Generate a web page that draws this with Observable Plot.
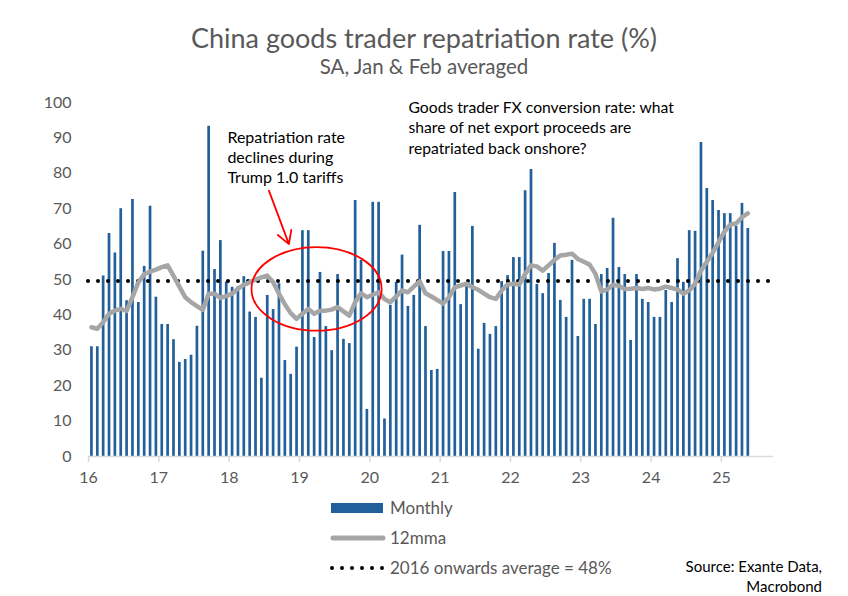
<!DOCTYPE html>
<html>
<head>
<meta charset="utf-8">
<script src="https://cdn.jsdelivr.net/npm/d3@7"></script>
<script src="https://cdn.jsdelivr.net/npm/@observablehq/plot@0.6"></script>
<style>
  html, body { margin: 0; padding: 0; background: #fff; }
  #page { position: relative; width: 848px; height: 596px; overflow: hidden; font-family: Lato, "Open Sans", sans-serif; }
  #chart { position: absolute; left: 0; top: 0; }
  .abs { position: absolute; white-space: nowrap; }
  #title { left: 0; width: 848px; text-align: center; top: 23px; font-size: 27px; line-height: 30px; color: #595959; }
  #subtitle { left: 0; width: 848px; text-align: center; top: 55px; font-size: 20.5px; line-height: 23px; color: #595959; }
  #source { right: 26px; top: 556px; font-size: 15px; line-height: 20px; color: #000; text-align: right; }
  #legend { position: absolute; left: 0; top: 0; }
</style>
</head>
<body>
<div id="page">
  <div id="chart"></div>
  <div id="title" class="abs">China goods trader repatriation rate (%)</div>
  <div id="subtitle" class="abs">SA, Jan &amp; Feb averaged</div>
  <div id="source" class="abs">Source: Exante Data,<br>Macrobond</div>
  <svg id="legend" width="848" height="596"></svg>
</div>
<script>
// Monthly goods trader repatriation rate (%), Jan 2016 – May 2025
const monthly = [
  31, 31, 51, 63, 57.5, 70, 44, 72.6, 43.5, 53.7, 70.7, 45,
  37.3, 37.3, 33, 26.6, 27.4, 28.6, 36.8, 58, 93.3, 52.8, 61, 49.3,
  47.8, 48, 50.8, 40.8, 39.3, 22.1, 45.5, 41.5, 48.8, 27.1, 23.2, 30.9,
  63.8, 63.8, 33.6, 52, 36.7, 29.9, 51.4, 33.1, 31.9, 72.3, 55.4, 13.3,
  71.8, 71.8, 10.6, 42.7, 49.2, 56.9, 42.4, 45.5, 65.3, 36.7, 24.3, 24.6,
  57.9, 57.9, 74.6, 42.9, 48, 65, 30.3, 37.6, 34.5, 36.7, 49.4, 51.1,
  56.2, 56.2, 75.1, 81.1, 48.6, 46, 51.7, 60.2, 44.1, 39.3, 55.4, 33.9,
  44.4, 44.4, 37.3, 51.4, 53.1, 67.3, 53.4, 51.4, 32.8, 51.4, 44.4, 43.5,
  39.3, 39.3, 46.9, 43.5, 55.9, 49.2, 63.8, 63.6, 88.7, 75.7, 72.3, 69.5,
  68.6, 68.6, 65, 71.5, 64.4
];
// 12-month moving average (%)
const mma12 = [
  36.5, 36.1, 37.9, 40.3, 41.2, 41.7, 41.1, 45, 49.2, 51.5, 52.2, 52.8,
  53.5, 54, 51, 48, 45, 43.6, 42.5, 41.4, 46, 46, 44.8, 45.3,
  46, 47.4, 48.5, 49.2, 50, 50.6, 51.1, 49.2, 46, 43, 40.5, 38.9,
  40.3, 41.7, 40.3, 41.2, 41.2, 41.5, 42.2, 41, 39.8, 43.6, 46.1, 45,
  45.7, 46.4, 44.5, 43.6, 45.2, 46.9, 46.4, 48, 49.5, 46.1, 45.2, 44.2,
  43.2, 45, 47.8, 48.3, 48.8, 47.8, 47.1, 46, 45, 44.5, 46.9, 48.6,
  48.8, 48.6, 51.5, 54, 53.7, 52.5, 54, 55.5, 56.8, 57, 57.3, 55.8,
  55, 54.2, 51.6, 46.6, 47.2, 48.5, 48.2, 47.3, 47.4, 47.6, 47.3, 47.6,
  47.2, 47.4, 48, 47.6, 47.2, 46, 46.9, 48.8, 52.5, 55, 57.5, 60.5,
  63.5, 65.5, 65.8, 67.6, 68.7
];
const startYear = 16;          // axis labels are two-digit years
const xTicks = [16, 17, 18, 19, 20, 21, 22, 23, 24, 25];
const yTicks = [0, 10, 20, 30, 40, 50, 60, 70, 80, 90, 100];
const averageLine = 49.6;      // dotted "2016 onwards average" line as drawn
const legendLabels = ["Monthly", "12mma", "2016 onwards average = 48%"];
const annotationTariffs = "Repatriation rate\ndeclines during\nTrump 1.0 tariffs";
const annotationFX = "Goods trader FX conversion rate: what\nshare of net export proceeds are\nrepatriated back onshore?";

const barColor = "#22609b";
const lineColor = "#a6a6a6";
const textGray = "#595959";

const data = monthly.map((v, i) => ({ t: startYear + (i + 0.5) / 12, v, m: mma12[i] }));

// red ellipse highlighting the Trump 1.0 period (in data coordinates)
const ellipseSpec = { cx: 19.25, cy: 47.2, rxYears: 0.925, ryPct: 11.8 };
function ellipseMark(index, scales) {
  const ns = "http://www.w3.org/2000/svg";
  const g = document.createElementNS(ns, "g");
  const e = document.createElementNS(ns, "ellipse");
  const cx = scales.x(ellipseSpec.cx), cy = scales.y(ellipseSpec.cy);
  const rx = Math.abs(scales.x(ellipseSpec.cx + ellipseSpec.rxYears) - cx);
  const ry = Math.abs(scales.y(ellipseSpec.cy + ellipseSpec.ryPct) - cy);
  e.setAttribute("cx", cx); e.setAttribute("cy", cy);
  e.setAttribute("rx", rx); e.setAttribute("ry", ry);
  e.setAttribute("fill", "none"); e.setAttribute("stroke", "#ff0000"); e.setAttribute("stroke-width", 1.8);
  g.appendChild(e);
  return g;
}

const chart = Plot.plot({
  width: 848,
  height: 500,
  marginTop: 102,
  marginBottom: 44,
  marginLeft: 88,
  marginRight: 75,
  x: { domain: [16, 25.74] },
  y: { domain: [0, 100] },
  style: { fontFamily: "Lato, 'Open Sans', sans-serif", background: "transparent", overflow: "visible" },
  marks: [
    Plot.axisY({ ticks: yTicks, tickSize: 0, tickPadding: 17, fontSize: 16, fill: textGray }),
    Plot.ruleX(data, { x: "t", y1: 0, y2: "v", stroke: barColor, strokeWidth: 2.7 }),
    Plot.ruleY([0], { stroke: "#d9d9d9", strokeWidth: 1.5 }),
    Plot.axisX({ ticks: xTicks, tickSize: 6, tickPadding: 9, stroke: "#d9d9d9", strokeWidth: 1.5, fill: textGray, fontSize: 16, tickFormat: d => String(d) }),
    Plot.ruleY([averageLine], { stroke: "#000", strokeWidth: 4, strokeDasharray: "0 10", strokeLinecap: "round" }),
    Plot.line(data, { x: "t", y: "m", stroke: lineColor, strokeWidth: 4.5, strokeLinejoin: "round", strokeLinecap: "round" }),
    ellipseMark,
    Plot.arrow([{ x1: 18.565, y1: 75.1, x2: 18.85, y2: 60 }], { x1: "x1", y1: "y1", x2: "x2", y2: "y2", stroke: "#ff0000", strokeWidth: 1.8, headLength: 12 }),
    Plot.text([{ x: 17.975, y: 92.8, s: annotationTariffs }], { x: "x", y: "y", text: "s", textAnchor: "start", lineAnchor: "top", lineHeight: 1.28, fontSize: 16, fill: "#000" }),
    Plot.text([{ x: 20.55, y: 101.2, s: annotationFX }], { x: "x", y: "y", text: "s", textAnchor: "start", lineAnchor: "top", lineHeight: 1.3, fontSize: 15.7, fill: "#000" })
  ]
});
document.getElementById("chart").appendChild(chart);

// legend (below the plot)
const lg = d3.select("#legend");
const lx = 331, lw = 52, tx = 390;
const rows = [508, 538, 568];
lg.append("rect").attr("x", lx).attr("y", rows[0] - 5).attr("width", lw).attr("height", 10).attr("fill", barColor);
lg.append("line").attr("x1", lx + 2).attr("x2", lx + lw).attr("y1", rows[1]).attr("y2", rows[1])
  .attr("stroke", lineColor).attr("stroke-width", 5).attr("stroke-linecap", "round");
lg.append("line").attr("x1", lx + 1).attr("x2", lx + lw).attr("y1", rows[2]).attr("y2", rows[2])
  .attr("stroke", "#000").attr("stroke-width", 4).attr("stroke-dasharray", "0 10").attr("stroke-linecap", "round");
legendLabels.forEach((s, i) => {
  lg.append("text").attr("x", tx).attr("y", rows[i]).attr("dy", "0.35em")
    .attr("font-family", "Lato, 'Open Sans', sans-serif").attr("font-size", 17).attr("fill", textGray).text(s);
});
</script>
</body>
</html>
